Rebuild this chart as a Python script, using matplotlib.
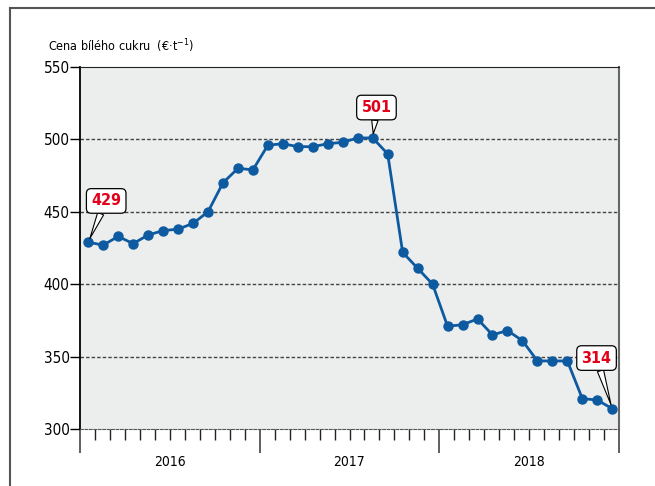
import matplotlib.pyplot as plt
from matplotlib import font_manager
from matplotlib.lines import Line2D
from matplotlib.ticker import MultipleLocator

# look for a condensed face, fall back to Liberation Sans
narrow = None
for f in font_manager.fontManager.ttflist:
    if 'Narrow' in f.name or 'Condensed' in f.name or (f.stretch in ('condensed', 'semi-condensed') and f.style == 'normal'):
        narrow = f
        break
if narrow is not None:
    plt.rcParams['font.family'] = [narrow.name, 'DejaVu Sans']
    plt.rcParams['font.stretch'] = narrow.stretch
else:
    plt.rcParams['font.family'] = ['Liberation Sans', 'DejaVu Sans']

years = ['2016', '2017', '2018']
prices = [429, 427, 433, 428, 434, 437, 438, 442, 450, 470, 480, 479,
          496, 497, 495, 495, 497, 498, 501, 501, 490, 422, 411, 400,
          371, 372, 376, 365, 368, 361, 347, 347, 347, 321, 320, 314]
labelled = [0, 19, 35]

x = [i + 0.55 for i in range(len(prices))]

fig = plt.figure(figsize=(6.55, 4.86), dpi=100)
ax = fig.add_axes([80/655, 1 - 429/486, 539/655, 362/486])
ax.set_facecolor('#eceeee')

ax.plot(x, prices, color='#0d5aa0', lw=2, marker='o', ms=6.5, zorder=3)

ax.set_xlim(0, 36)
ax.set_ylim(300, 550)
ax.yaxis.set_major_locator(MultipleLocator(50))
for v in [350, 400, 450, 500]:
    ax.axhline(v, color='#444444', lw=1, ls=(0, (2.5, 1.5)), zorder=1)

ax.spines['top'].set_color('#222222')
ax.spines['left'].set_color('black')
ax.spines['left'].set_linewidth(1.3)
ax.spines['right'].set_color('#666666')
ax.spines['right'].set_linewidth(1.5)
ax.spines['bottom'].set_color('#555555')
ax.spines['bottom'].set_linestyle((0, (2.5, 1.5)))

ax.set_xticks(range(1, 36), minor=True)
ax.set_xticks([0, 12, 24, 36])
ax.set_xticklabels([])
ax.tick_params(axis='x', which='minor', length=8, width=1, color='#222222')
ax.tick_params(axis='x', which='major', length=17, width=1.2, color='#444444')
ax.tick_params(axis='y', length=7, width=1, pad=0.5)
for lab in ax.get_yticklabels():
    lab.set_fontsize(11)

for i, yr in enumerate(years):
    ax.text(i * 12 + 6, -0.09, yr, transform=ax.get_xaxis_transform(),
            ha='center', va='center', fontsize=10)

ax.text(-0.06, 1.058, 'Cena bílého cukru  (€·t$^{-1}$)', transform=ax.transAxes,
        ha='left', va='center', fontsize=9)

offsets = {0: (1.2, 28.5), 19: (0.25, 21), 35: (-1.05, 35)}
for i in labelled:
    dx, dy = offsets[i]
    ax.annotate(str(prices[i]), xy=(x[i], prices[i]), xytext=(x[i] + dx, prices[i] + dy),
                ha='center', va='center', color='#e2001a', fontsize=11.5, fontweight='bold',
                bbox=dict(boxstyle='round,pad=0.3,rounding_size=0.3', fc='white', ec='black', lw=0.9),
                arrowprops=dict(arrowstyle='wedge,tail_width=0.4,shrink_factor=0.5', fc='white',
                                ec='black', lw=0.8, shrinkA=0, shrinkB=3),
                zorder=5)

fig.add_artist(Line2D([9.5/655, 9.5/655], [0, 1 - 8/486], color='#555555', lw=1.5))
fig.add_artist(Line2D([9.5/655, 1], [1 - 8/486, 1 - 8/486], color='#555555', lw=1.5))

fig.savefig('out.png', dpi=100)
